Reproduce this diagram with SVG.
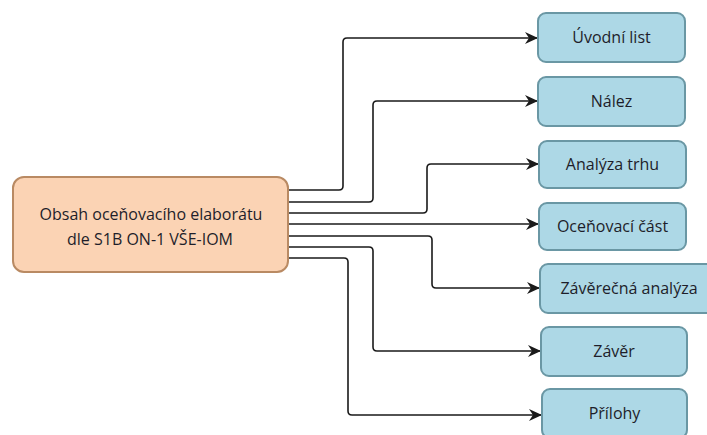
<svg xmlns="http://www.w3.org/2000/svg" width="707" height="435" viewBox="0 0 707 435">
  <style>
    .src { fill: #fbd3b4; stroke: #b98a63; stroke-width: 2; }
    .dst { fill: #add8e6; stroke: #6a97a4; stroke-width: 2; }
    .lbl { font-family: "Open Sans", "Noto Sans", "DejaVu Sans", sans-serif; font-size: 16px; fill: #1e1e2a; text-anchor: middle; }
    .edge { fill: none; stroke: #1a1a1a; stroke-width: 1.6; marker-end: url(#arrow); }
  </style>
  <defs>
    <marker id="arrow" markerUnits="userSpaceOnUse" markerWidth="14" markerHeight="12" refX="13" refY="6" orient="auto">
      <path d="M0,0 L13,6 L0,12 L4,6 Z" fill="#1a1a1a"/>
    </marker>
  </defs>
  <rect width="707" height="435" fill="#ffffff"/>

  <!-- connectors: source right edge fans out to each section -->
  <g id="connectors">
    <path class="edge" d="M288,190 H339 Q343,190 343,186 V42 Q343,38 347,38 H538"/>
    <path class="edge" d="M288,202 H369 Q373,202 373,198 V105 Q373,101 377,101 H538"/>
    <path class="edge" d="M288,213 H423 Q427,213 427,209 V168 Q427,164 431,164 H539"/>
    <path class="edge" d="M288,224 H539"/>
    <path class="edge" d="M288,236 H428 Q432,236 432,240 V284 Q432,288 436,288 H540"/>
    <path class="edge" d="M288,247 H369 Q373,247 373,251 V347 Q373,351 377,351 H541"/>
    <path class="edge" d="M288,258 H344 Q348,258 348,262 V411 Q348,415 352,415 H542"/>
  </g>

  <g id="source">
    <rect class="src" x="13" y="177" width="275" height="95" rx="11"/>
    <text class="lbl" x="151" y="220">Obsah oceňovacího elaborátu</text>
    <text class="lbl" x="150" y="245">dle S1B ON-1 VŠE-IOM</text>
  </g>

  <g id="uvodni-list">
    <rect class="dst" x="538" y="13" width="147" height="49" rx="8"/>
    <text class="lbl" x="611.5" y="43">Úvodní list</text>
  </g>
  <g id="nalez">
    <rect class="dst" x="538" y="77" width="147" height="49" rx="8"/>
    <text class="lbl" x="611.5" y="107">Nález</text>
  </g>
  <g id="analyza-trhu">
    <rect class="dst" x="539" y="141" width="147" height="47" rx="8"/>
    <text class="lbl" x="612.5" y="170">Analýza trhu</text>
  </g>
  <g id="ocenovaci-cast">
    <rect class="dst" x="539" y="203" width="147" height="47" rx="8"/>
    <text class="lbl" x="612.5" y="232">Oceňovací část</text>
  </g>
  <g id="zaverecna-analyza">
    <rect class="dst" x="540" y="264" width="175" height="49" rx="8"/>
    <text class="lbl" x="629" y="294">Závěrečná analýza</text>
  </g>
  <g id="zaver">
    <rect class="dst" x="541" y="327" width="146" height="49" rx="8"/>
    <text class="lbl" x="614" y="357">Závěr</text>
  </g>
  <g id="prilohy">
    <rect class="dst" x="542" y="389" width="145" height="49" rx="8"/>
    <text class="lbl" x="614.5" y="419">Přílohy</text>
  </g>
</svg>
